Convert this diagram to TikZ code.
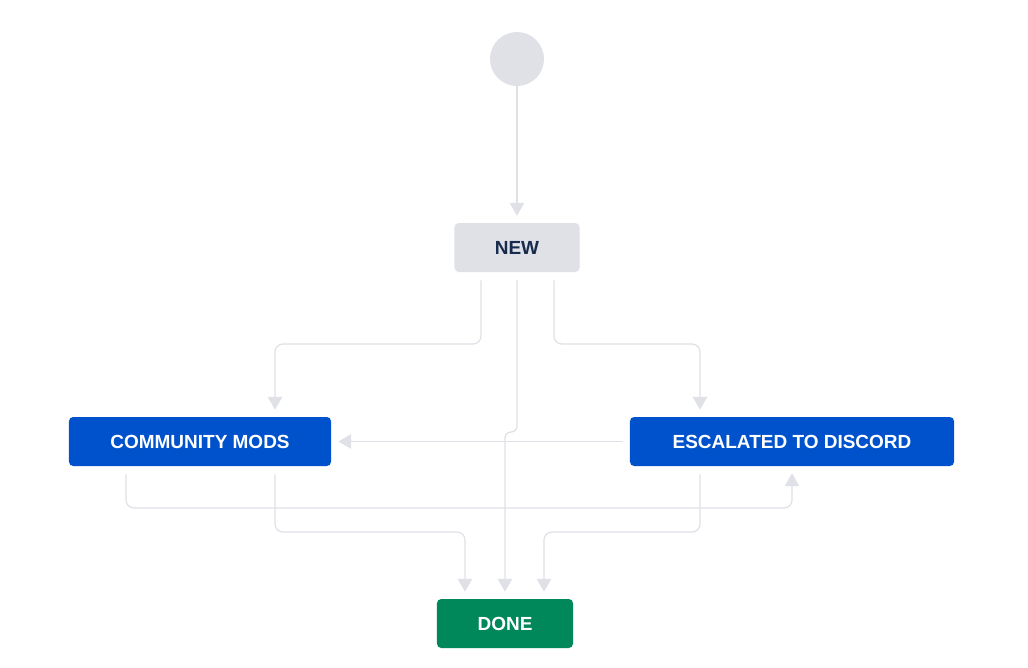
\documentclass[tikz,border=0pt]{standalone}
\usepackage{fontspec}
\setmainfont{Liberation Sans}
\usetikzlibrary{calc,arrows.meta}
\definecolor{linegray}{HTML}{DFE1E6}
\definecolor{newgray}{HTML}{DFE1E6}
\definecolor{navytext}{HTML}{172B4D}
\definecolor{jirablue}{HTML}{0052CC}
\definecolor{jiragreen}{HTML}{00875A}
\tikzset{
	state/.style={rounded corners=3pt, inner sep=0pt, minimum height=1.225cm,
		font=\fontsize{13.5}{16}\selectfont\bfseries},
	flow/.style={draw=linegray, line width=0.9pt, rounded corners=0.2cm,
		-{Triangle[width=0.36cm, length=0.32cm]}},
}

\begin{document}
\begin{tikzpicture}[x=0.025cm, y=-0.025cm]
		%%%%% START %%%%%
		
		\useasboundingbox (0, 0) rectangle (1028, 667);
		
		\node[circle, fill=newgray, minimum size=1.35cm, inner sep=0pt] (start) at (517, 59) {};
		\node[state, fill=newgray, text=navytext, minimum width=3.125cm] (new) at (517, 247.5) {NEW};
		\node[state, fill=jirablue, text=white, minimum width=6.55cm] (community) at (200, 441.5) {COMMUNITY MODS};
		\node[state, fill=jirablue, text=white, minimum width=8.1cm] (escalated) at (792, 441.5) {ESCALATED TO DISCORD};
		\node[state, fill=jiragreen, text=white, minimum width=3.4cm] (done) at (505, 623.5) {DONE};
		
		\draw[flow] (start) -- ($(new.north)+(0,-7)$);
		
		\draw[flow] ($(new.south)+(-36,8)$) |- (275, 344) -- ($(community.north)+(75,-7)$);
		\draw[flow, rounded corners=0.15cm] ($(new.south)+(0,8)$) -- (517, 432) -- (505, 432) -- ($(done.north)+(0,-7)$);
		\draw[flow] ($(new.south)+(37,8)$) |- (700, 344) -- ($(escalated.north)+(-92,-7)$);
		
		\draw[flow] ($(escalated.west)+(-7,0)$) -- ($(community.east)+(7,0)$);
		\draw[flow] ($(community.south)+(-74,8)$) |- (792, 508) -- ($(escalated.south)+(0,7)$);
		
		\draw[flow] ($(community.south)+(75,8)$) |- (465, 532) -- ($(done.north)+(-40,-7)$);
		\draw[flow] ($(escalated.south)+(-92,8)$) |- (544, 532) -- ($(done.north)+(39,-7)$);
		
		%%%%% END %%%%%
	\end{tikzpicture}
\end{document}
